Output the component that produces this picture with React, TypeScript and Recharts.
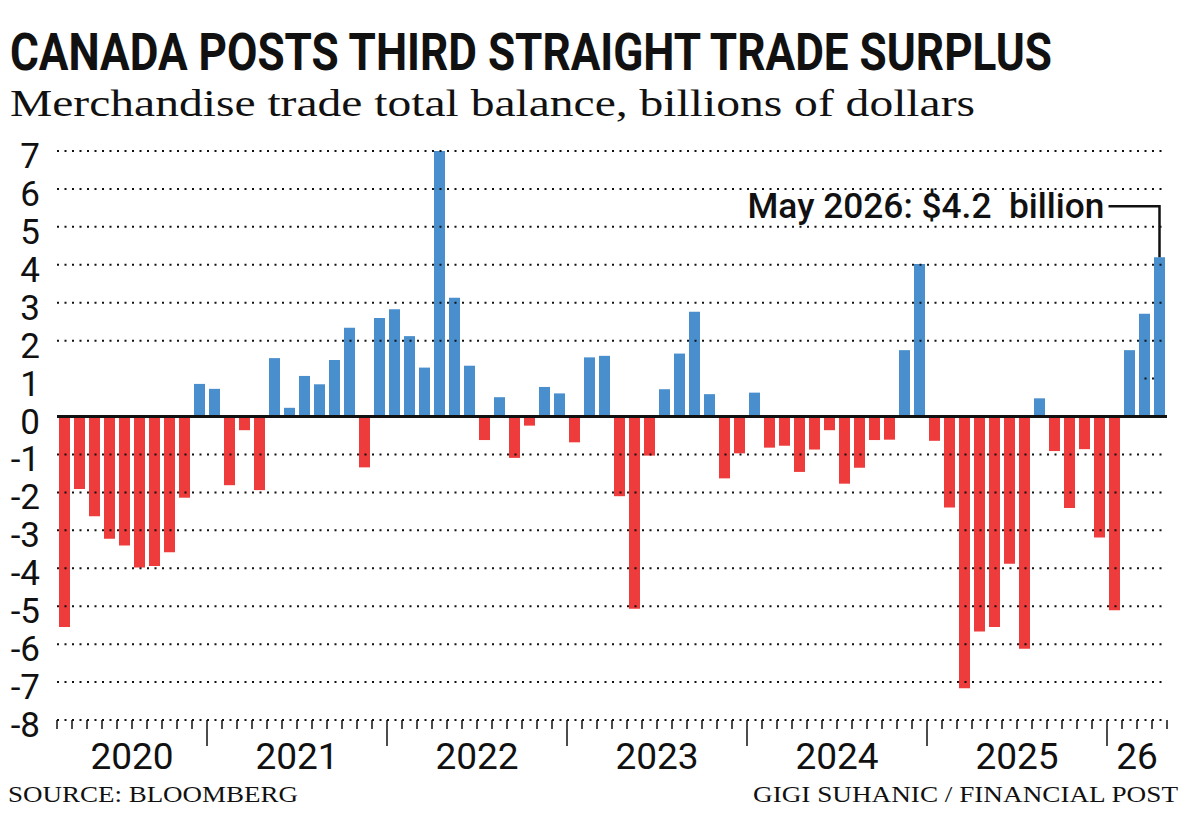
import React from 'react';
import { BarChart, Bar, XAxis, YAxis, ReferenceLine, Cell, LabelList } from 'recharts';

// Monthly merchandise trade balance, billions of dollars
const balance2020 = [-5.55, -1.91, -2.63, -3.22, -3.4, -3.98, -3.94, -3.58, -2.14, 0.86];
const balance2021 = [0.73, -1.81, -0.36, -1.94, 1.54, 0.23, 1.07, 0.85, 1.49, 2.34, -1.34, 2.6];
const balance2022 = [2.83, 2.12, 1.29, 7.0, 3.13, 1.34, -0.62, 0.51, -1.09, -0.24, 0.78, 0.61];
const balance2023 = [-0.68, 1.56, 1.6, -2.1, -5.07, -1.03, 0.72, 1.66, 2.76, 0.59, -1.63, -0.97];
const balance2024 = [0.63, -0.82, -0.77, -1.46, -0.87, -0.36, -1.77, -1.35, -0.62, -0.61, 1.75, 4.02];
const balance2025 = [-0.64, -2.4, -7.16, -5.67, -5.55, -3.88, -6.12, 0.48, -0.91, -2.41, -0.86, -3.19];
const balance2026 = [-5.11, 1.75, 2.71, 4.2];

const years = [2020, 2021, 2022, 2023, 2024, 2025, 2026];
const yearLabels = ['2020', '2021', '2022', '2023', '2024', '2025', '26'];
const firstMonth = [3, 1, 1, 1, 1, 1, 1];
const balances = [balance2020, balance2021, balance2022, balance2023, balance2024, balance2025, balance2026];

const yTicks = [-8, -7, -6, -5, -4, -3, -2, -1, 0, 1, 2, 3, 4, 5, 6, 7];
const dottedTicks = [-8, -7, -6, -5, -4, -3, -2, -1, 2, 3, 4, 5, 6, 7];
const latestLabel = 'May 2026';

const data = years.flatMap((year, yi) =>
  balances[yi].map((value, mi) => ({
    month: `${year}-${String(firstMonth[yi] + mi).padStart(2, '0')}`,
    year,
    value,
  }))
);

const W = 1200;
const H = 840;
const MARGIN = { top: 151, right: 33, bottom: 60, left: 0 };
const Y_AXIS_W = 57;
const BAND = (W - MARGIN.left - MARGIN.right - Y_AXIS_W) / data.length;

const BLUE = '#4a8fcd';
const RED = '#ee3b3b';
const INK = '#111';
const SANS = 'Roboto, "Noto Sans", sans-serif';
const SERIF = '"Liberation Serif", "DejaVu Serif", serif';

const YTick = (props: any) => {
  const { y, payload } = props;
  return (
    <text x={40} y={y + 17} textAnchor="end" fontFamily={SANS} fontSize={35} fill={INK}>
      {payload.value}
    </text>
  );
};

const XTick = (props: any) => {
  const { x, y, index } = props;
  const point = data[index];
  const left = x - BAND / 2;
  const isYearStart = index === 0 || data[index - 1].year !== point.year;
  const isLast = index === data.length - 1;
  let label = null;
  if (isYearStart) {
    const count = data.filter((d) => d.year === point.year).length;
    label = (
      <text
        x={left + (count * BAND) / 2}
        y={y + 49}
        textAnchor="middle"
        fontFamily={SANS}
        fontSize={37}
        fill={INK}
      >
        {yearLabels[years.indexOf(point.year)]}
      </text>
    );
  }
  return (
    <g>
      <line x1={left} x2={left} y1={y} y2={y + (isYearStart && index > 0 ? 26 : 9)} stroke={INK} strokeWidth={1.5} />
      {isLast && <line x1={left + BAND} x2={left + BAND} y1={y} y2={y + 9} stroke={INK} strokeWidth={1.5} />}
      {label}
    </g>
  );
};

// leader line from the latest bar up to its value label
const Callout = (props: any) => {
  const { x, y, width, value, index } = props;
  if (index !== data.length - 1) return null;
  const cx = x + width / 2;
  const lineY = y - 51;
  return (
    <g>
      <path d={`M${cx},${y} V${lineY} H${cx - 51}`} fill="none" stroke={INK} strokeWidth={2.5} />
      <text
        x={cx - 55}
        y={lineY + 12}
        textAnchor="end"
        fontFamily={SANS}
        fontWeight={500}
        fontSize={35}
        fill={INK}
        textLength={357}
        lengthAdjust="spacingAndGlyphs"
        style={{ whiteSpace: 'pre' }}
      >
        {`${latestLabel}: $${value}  billion`}
      </text>
    </g>
  );
};

export default function App() {
  return (
    <div style={{ position: 'absolute', left: 0, top: 0, width: W, height: H, background: '#fff' }}>
      <BarChart width={W} height={H} data={data} margin={MARGIN} barCategoryGap={2}>
        <XAxis
          dataKey="month"
          interval={0}
          axisLine={false}
          tickLine={false}
          tickSize={0}
          tickMargin={0}
          height={MARGIN.bottom}
          tick={<XTick />}
        />
        <YAxis
          domain={[-8, 7]}
          ticks={yTicks}
          width={Y_AXIS_W}
          axisLine={false}
          tickLine={false}
          tick={<YTick />}
          allowDataOverflow
        />
        <Bar dataKey="value" isAnimationActive={false}>
          {data.map((d) => (
            <Cell key={d.month} fill={d.value >= 0 ? BLUE : RED} />
          ))}
          <LabelList dataKey="value" content={<Callout />} />
        </Bar>
        {dottedTicks.map((t) => (
          <ReferenceLine key={t} y={t} stroke={INK} strokeWidth={2} strokeDasharray="2 5.5" />
        ))}
        <ReferenceLine
          segment={[
            { x: data[data.length - 2].month, y: 1 },
            { x: data[data.length - 1].month, y: 1 },
          ]}
          stroke={INK}
          strokeWidth={2}
          strokeDasharray="2 5.5"
        />
        <ReferenceLine y={0} stroke={INK} strokeWidth={3} />
      </BarChart>
      <svg width={W} height={H} style={{ position: 'absolute', left: 0, top: 0, pointerEvents: 'none' }}>
        <text
          x={0}
          y={0}
          transform="translate(10,70) scale(1,1.08)"
          fontFamily={SANS}
          fontWeight={700}
          fontSize={48}
          fill={INK}
          textLength={1042}
          lengthAdjust="spacingAndGlyphs"
        >
          CANADA POSTS THIRD STRAIGHT TRADE SURPLUS
        </text>
        <text x={10} y={116} fontFamily={SERIF} fontSize={37} fill={INK} textLength={965} lengthAdjust="spacingAndGlyphs">
          Merchandise trade total balance, billions of dollars
        </text>
        <text x={8} y={802} fontFamily={SERIF} fontSize={24} fill={INK} textLength={290} lengthAdjust="spacingAndGlyphs">
          SOURCE: BLOOMBERG
        </text>
        <text
          x={1178}
          y={802}
          textAnchor="end"
          fontFamily={SERIF}
          fontSize={24}
          fill={INK}
          textLength={425}
          lengthAdjust="spacingAndGlyphs"
        >
          GIGI SUHANIC / FINANCIAL POST
        </text>
      </svg>
    </div>
  );
}
